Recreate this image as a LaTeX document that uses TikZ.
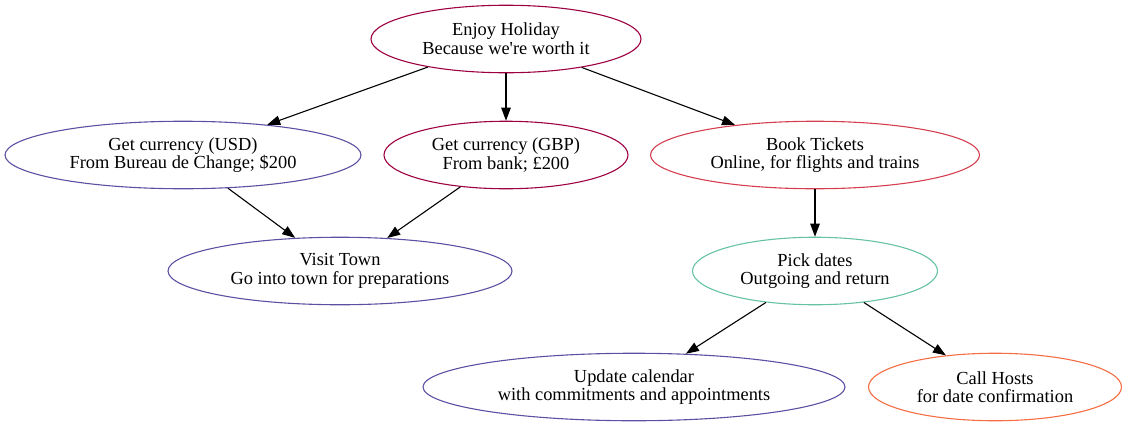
\documentclass[tikz,border=0pt]{standalone}
\usepackage{fontspec}
\setmainfont{Liberation Serif}
\newfontfamily\gvfont{Liberation Serif}
\usetikzlibrary{shapes.geometric,arrows.meta}
\definecolor{cA}{HTML}{9E0142}
\definecolor{cB}{HTML}{D53E4F}
\definecolor{cC}{HTML}{66C2A5}
\definecolor{cD}{HTML}{F46D43}
\definecolor{cE}{HTML}{5E4FA2}
\begin{document}
\begin{tikzpicture}[x=1pt,y=-1pt,
  gv/.style={ellipse,draw,line width=1.1pt,inner sep=0pt,minimum height=67.5pt,align=center,font=\gvfont\fontsize{18.4}{18.6}\selectfont},
  arr/.style={-{Triangle[length=13pt,width=9.5pt]},line width=1.1pt}]
\useasboundingbox (0,0) rectangle (1127,426);
\node[gv,draw=cA,minimum width=270pt] (enjoy) at (506,39) {Enjoy Holiday\\Because we're worth it};
\node[gv,draw=cE,minimum width=356pt] (usd) at (183,155) {Get currency (USD)\\From Bureau de Change; \$200};
\node[gv,draw=cA,minimum width=244pt] (gbp) at (506,155) {Get currency (GBP)\\From bank; £200};
\node[gv,draw=cB,minimum width=329pt] (book) at (815,155) {Book Tickets\\Online, for flights and trains};
\node[gv,draw=cE,minimum width=344pt] (visit) at (340,271) {Visit Town\\Go into town for preparations};
\node[gv,draw=cC,minimum width=245pt] (pick) at (815,271) {Pick dates\\Outgoing and return};
\node[gv,draw=cE,minimum width=422pt] (update) at (634,387) {Update calendar\\with commitments and appointments};
\node[gv,draw=cD,minimum width=253pt] (call) at (995,387) {Call Hosts\\for date confirmation};
\draw[arr] (enjoy) -- (usd);
\draw[arr] (enjoy) -- (gbp);
\draw[arr] (enjoy) -- (book);
\draw[arr] (usd) -- (visit);
\draw[arr] (gbp) -- (visit);
\draw[arr] (book) -- (pick);
\draw[arr] (pick) -- (update);
\draw[arr] (pick) -- (call);
\end{tikzpicture}
\end{document}
